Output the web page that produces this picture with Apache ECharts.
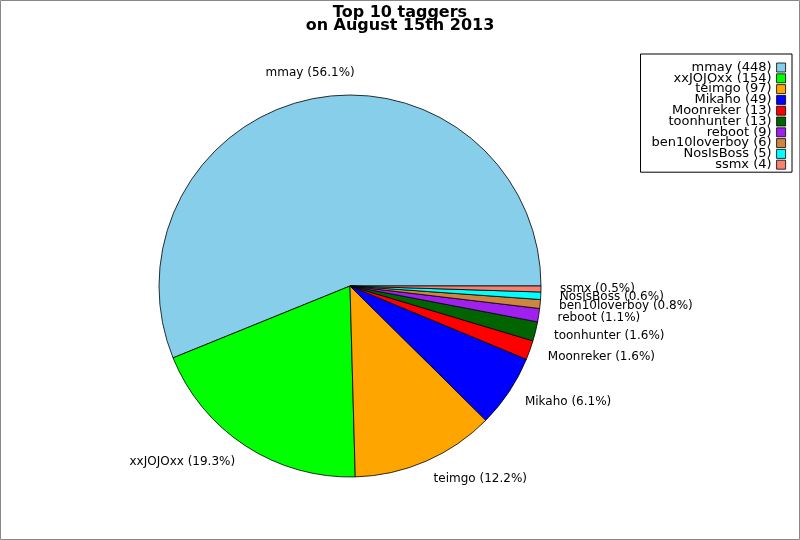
<!DOCTYPE html>
<html>
<head>
<meta charset="utf-8">
<script src="https://cdn.jsdelivr.net/npm/echarts@6/dist/echarts.min.js"></script>
<style>
html,body{margin:0;padding:0;background:#fff;}
#chart{width:800px;height:540px;}
</style>
</head>
<body>
<div id="chart"></div>
<script>
const names = ['mmay','xxJOJOxx','teimgo','Mikaho','Moonreker','toonhunter','reboot','ben10loverboy','NosIsBoss','ssmx'];
const counts = [448,154,97,49,13,13,9,6,5,4];
const colors = ['#87ceeb','#00ff00','#ffa500','#0000ff','#ff0000','#006400','#a020f0','#cd853f','#00ffff','#fa8072'];
const titleLines = ['Top 10 taggers','on August 15th 2013'];

const total = counts.reduce((a,b)=>a+b,0);
const data = names.map((n,i)=>{
  const item = {name:n, value:counts[i], itemStyle:{color:colors[i]}};
  if (i === 0) item.label = {offset:[45,-7]};
  return item;
});

const chart = echarts.init(document.getElementById('chart'), null, {renderer:'canvas'});
chart.setOption({
  animation:false,
  backgroundColor:'#fff',
  color: colors,
  title:{
    text: titleLines.join('\n'),
    left:'center', top:1,
    textStyle:{fontFamily:'DejaVu Sans', fontSize:16, fontWeight:'bold', color:'#000', lineHeight:13.5}
  },
  graphic:[{
    type:'rect', shape:{x:0.5,y:0.5,width:799,height:539},
    style:{fill:null, stroke:'#888', lineWidth:1}, silent:true
  }],
  legend:{
    orient:'vertical', right:8, top:54, align:'right',
    data: names,
    itemWidth:9, itemHeight:9, itemGap:-2.2,
    padding:[7,6,1,11],
    borderColor:'#000', borderWidth:1,
    icon:'rect',
    itemStyle:{borderWidth:0.8},
    textStyle:{fontFamily:'DejaVu Sans', fontSize:13, color:'#000', lineHeight:10.8},
    formatter: function(n){ return n + ' (' + counts[names.indexOf(n)] + ')'; }
  },
  series:[{
    type:'pie',
    center:[350,286], radius:[0,191],
    startAngle:0, clockwise:false,
    avoidLabelOverlap:false,
    minAngle:0,
    itemStyle:{borderColor:'#000', borderWidth:0.8},
    emphasis:{disabled:true},
    labelLayout:{hideOverlap:false},
    label:{
      show:true, position:'outside',
      fontFamily:'DejaVu Sans', fontSize:12, color:'#000',
      distanceToLabelLine:0,
      formatter: function(p){ return p.name + ' (' + (p.value/total*100).toFixed(1) + '%)'; }
    },
    labelLine:{show:false, length:19, length2:0},
    data:data
  }]
});
</script>
</body>
</html>
